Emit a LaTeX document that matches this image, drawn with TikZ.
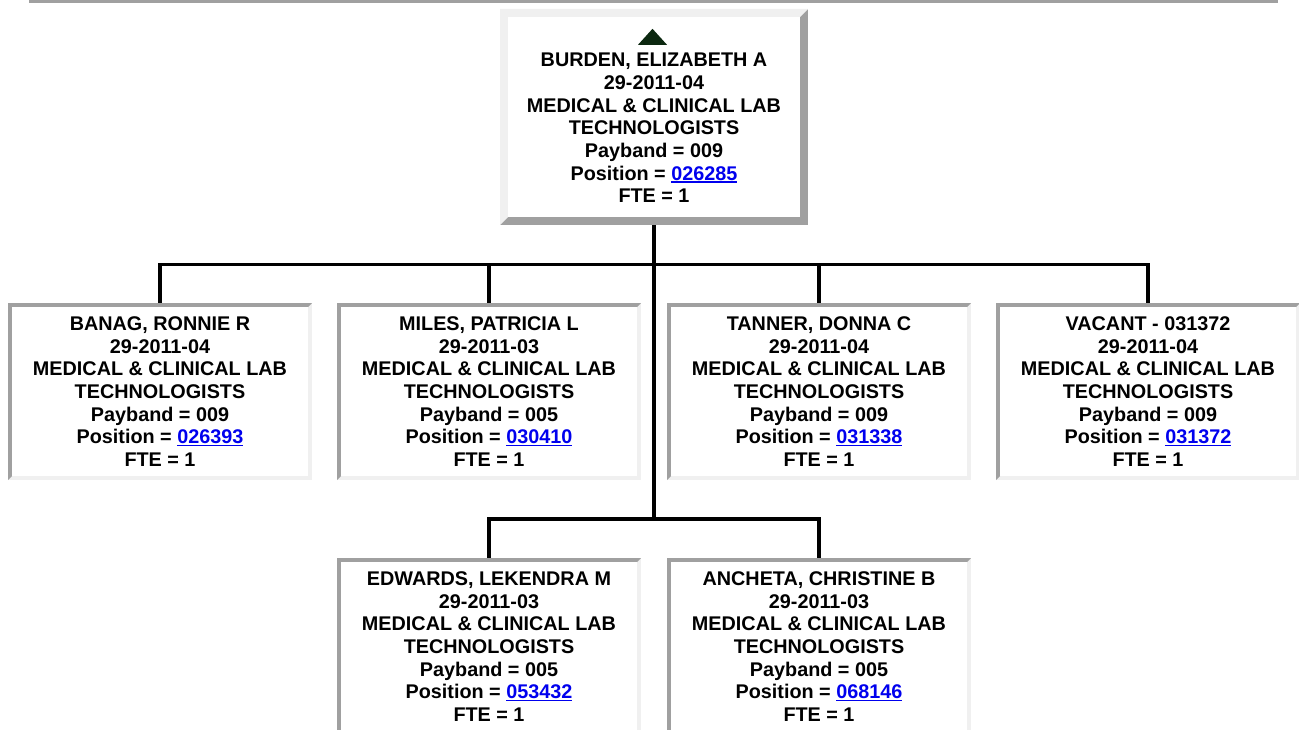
\documentclass[tikz,border=0pt]{standalone}
\usepackage{fontspec}
\setmainfont{Liberation Sans}

\definecolor{edgedark}{RGB}{160,160,160}
\definecolor{edgelite}{RGB}{240,240,240}
\definecolor{linkblue}{RGB}{0,0,238}
\definecolor{topgreen}{RGB}{12,40,16}

\newcommand{\poslink}[1]{\textcolor{linkblue}{\setbox0=\hbox{#1}\rlap{\rule[-2.3pt]{\wd0}{1.6pt}}\box0}}

\begin{document}
\begin{tikzpicture}[
  x=1pt, y=1pt,
  every node/.style={font=\fontsize{19.8}{22.7}\selectfont\bfseries},
  bevel/.style n args={3}{path picture={
      \fill[#3] (path picture bounding box.south west) rectangle (path picture bounding box.north east);
      \fill[#2] (path picture bounding box.south west) -- (path picture bounding box.north west)
        -- (path picture bounding box.north east)
        -- ([shift={(-#1,-#1)}]path picture bounding box.north east)
        -- ([shift={(#1,-#1)}]path picture bounding box.north west)
        -- ([shift={(#1,#1)}]path picture bounding box.south west) -- cycle;
      \fill[white] ([shift={(#1,#1)}]path picture bounding box.south west)
        rectangle ([shift={(-#1,-#1)}]path picture bounding box.north east);
  }},
  head/.style={
    fill=white, inner sep=0pt, align=center,
    minimum width=308, minimum height=216,
    bevel={8pt}{edgelite}{edgedark}
  },
  staff/.style={
    fill=white, inner sep=0pt, align=center,
    minimum width=304, minimum height=177,
    bevel={4pt}{edgedark}{edgelite}
  },
  wire/.style={line width=3.8pt},
]
\useasboundingbox (0,0) rectangle (1299,-730);

%% ── Page rule ─────────────────────────────────────────────────────────────
\fill[edgedark] (29,0) rectangle (1278,-3);

%% ── Supervisor ────────────────────────────────────────────────────────────
\node[head] (burden) at (654,-117)
  {\rule{0pt}{13pt}\\BURDEN, ELIZABETH A\\29-2011-04\\MEDICAL \& CLINICAL LAB\\TECHNOLOGISTS\\Payband = 009\\Position = \poslink{026285}\\FTE = 1};
\fill[topgreen] ([shift={(-16,-36)}]burden.north) -- ([shift={(13,-36)}]burden.north)
  -- ([shift={(-1.5,-20)}]burden.north) -- cycle;

%% ── First row of reports ──────────────────────────────────────────────────
\node[staff] (banag)  at (160,-391.5)
  {BANAG, RONNIE R\\29-2011-04\\MEDICAL \& CLINICAL LAB\\TECHNOLOGISTS\\Payband = 009\\Position = \poslink{026393}\\FTE = 1};
\node[staff] (miles)  at (489,-391.5)
  {MILES, PATRICIA L\\29-2011-03\\MEDICAL \& CLINICAL LAB\\TECHNOLOGISTS\\Payband = 005\\Position = \poslink{030410}\\FTE = 1};
\node[staff] (tanner) at (819,-391.5)
  {TANNER, DONNA C\\29-2011-04\\MEDICAL \& CLINICAL LAB\\TECHNOLOGISTS\\Payband = 009\\Position = \poslink{031338}\\FTE = 1};
\node[staff] (vacant) at (1148,-391.5)
  {VACANT - 031372\\29-2011-04\\MEDICAL \& CLINICAL LAB\\TECHNOLOGISTS\\Payband = 009\\Position = \poslink{031372}\\FTE = 1};

%% ── Second row of reports ─────────────────────────────────────────────────
\node[staff] (edwards) at (489,-646.5)
  {EDWARDS, LEKENDRA M\\29-2011-03\\MEDICAL \& CLINICAL LAB\\TECHNOLOGISTS\\Payband = 005\\Position = \poslink{053432}\\FTE = 1};
\node[staff] (ancheta) at (819,-646.5)
  {ANCHETA, CHRISTINE B\\29-2011-03\\MEDICAL \& CLINICAL LAB\\TECHNOLOGISTS\\Payband = 005\\Position = \poslink{068146}\\FTE = 1};

%% ── Connectors ────────────────────────────────────────────────────────────
\coordinate (tee)  at (654,-264.5);
\coordinate (tee2) at (654,-519);
\draw[wire] (burden.south) -- (tee2);
\draw[wire] (banag.north) |- (tee) -| (vacant.north);
\draw[wire] (miles.north) -- (miles.north |- tee);
\draw[wire] (tanner.north) -- (tanner.north |- tee);
\draw[wire] (edwards.north) |- (tee2) -| (ancheta.north);

\end{tikzpicture}
\end{document}
